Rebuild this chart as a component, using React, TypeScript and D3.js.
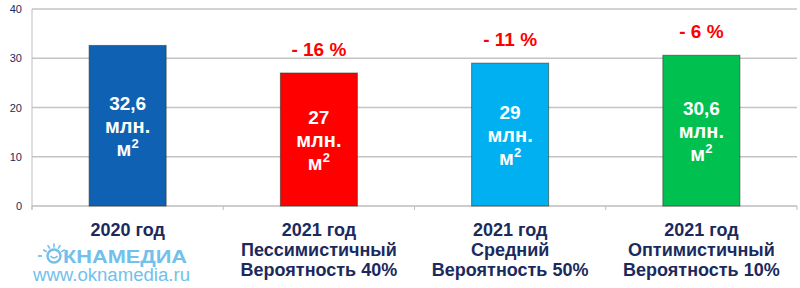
import React from "react";
import * as d3 from "d3";

const categories = ["2020 год", "2021 год Пессимистичный", "2021 год Средний", "2021 год Оптимистичный"];
const labelLines = [
  ["2020 год"],
  ["2021 год", "Пессимистичный", "Вероятность 40%"],
  ["2021 год", "Средний", "Вероятность 50%"],
  ["2021 год", "Оптимистичный", "Вероятность 10%"],
];
const values = [32.6, 27, 29, 30.6];
const valueLabels = ["32,6", "27", "29", "30,6"];
const changeLabels = ["", "- 16 %", "- 11 %", "- 6 %"];
const colors = ["#0F62B3", "#FF0000", "#00B0F0", "#00C050"];
const yTicks = [0, 10, 20, 30, 40];

export default function App() {
  const W = 800, H = 288;
  const left = 32, right = 797, top = 9, bottom = 206;
  const x = d3.scaleBand().domain(categories).range([left, right]).paddingInner(0).paddingOuter(0);
  const y = d3.scaleLinear().domain([0, 40]).range([bottom, top]);
  const bw = 77;
  const font = "Liberation Sans, Arial, sans-serif";
  const navy = "#1B2A5C";
  const logo = "#72C0EC";
  const rays = [-150, -120, -90, -60, -30];
  return (
    <svg width={W} height={H} style={{ position: "absolute", left: 0, top: 0 }} fontFamily={font}>
      <rect width={W} height={H} fill="#fff" />
      {yTicks.map((t) => (
        <g key={t}>
          {t > 0 && <line x1={left} x2={right} y1={y(t)} y2={y(t)} stroke="#C4C4C4" strokeWidth={1.3} />}
          <text x={22} y={y(t) + 4} fontSize={11} fill={navy} textAnchor="end">{t}</text>
        </g>
      ))}
      <line x1={left} x2={left} y1={top} y2={bottom + 4} stroke="#BDBDBD" strokeWidth={1} />
      <line x1={left} x2={right} y1={bottom} y2={bottom} stroke="#BDBDBD" strokeWidth={1.3} />
      {categories.map((c, i) => (
        <line key={"t" + i} x1={(x(c) as number)} x2={(x(c) as number)} y1={bottom} y2={bottom + 4} stroke="#BDBDBD" />
      ))}
      <line x1={right} x2={right} y1={bottom} y2={bottom + 4} stroke="#BDBDBD" />
      {categories.map((c, i) => {
        const cx = (x(c) as number) + x.bandwidth() / 2;
        const yv = y(values[i]);
        const mid = (yv + bottom) / 2;
        return (
          <g key={c}>
            <rect x={cx - bw / 2} y={yv} width={bw} height={bottom - yv} fill={colors[i]} stroke="#2a3a2a" strokeOpacity={0.6} strokeWidth={1} />
            <text x={cx} y={mid - 16} textAnchor="middle" fontSize={19} fontWeight="bold" fill="#fff">{valueLabels[i]}</text>
            <text x={cx} y={mid + 7} textAnchor="middle" fontSize={20} fontWeight="bold" fill="#fff">млн.</text>
            <text x={cx} y={mid + 30} textAnchor="middle" fontSize={20} fontWeight="bold" fill="#fff">
              м<tspan fontSize={13} dy={-8}>2</tspan>
            </text>
            {changeLabels[i] && (
              <text x={cx} y={yv - 17} textAnchor="middle" fontSize={19} fontWeight="bold" fill="#FF0000">{changeLabels[i]}</text>
            )}
            {labelLines[i].map((l, k) => (
              <text key={k} x={cx} y={236 + k * 20} textAnchor="middle" fontSize={18} fontWeight="bold" fill={navy}>{l}</text>
            ))}
          </g>
        );
      })}
      <g>
        <circle cx={54} cy={256} r={6.5} fill="none" stroke={logo} strokeWidth={2.4} />
        <path d="M50.5,256 Q54,260 57.5,256" fill="none" stroke={logo} strokeWidth={1.6} />
        {rays.map((a) => {
          const r = (a * Math.PI) / 180;
          return (
            <line key={a} x1={54 + Math.cos(r) * 9} y1={256 + Math.sin(r) * 9} x2={54 + Math.cos(r) * 12} y2={256 + Math.sin(r) * 12} stroke={logo} strokeWidth={1.6} strokeLinecap="round" />
          );
        })}
        <line x1={38} x2={42} y1={256} y2={256} stroke={logo} strokeWidth={1.8} />
        <text x={63} y={263} fontSize={19} fontWeight="bold" fill={logo} textLength={124} lengthAdjust="spacingAndGlyphs">КНАМЕДИА</text>
        <text x={33} y={281} fontSize={18} fill={logo} textLength={157} lengthAdjust="spacingAndGlyphs">www.oknamedia.ru</text>
      </g>
    </svg>
  );
}
